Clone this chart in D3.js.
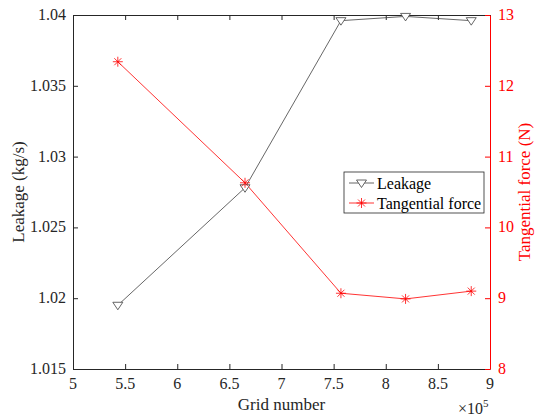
<!DOCTYPE html>
<html><head><meta charset="utf-8">
<script src="https://cdn.jsdelivr.net/npm/d3@7"></script>
<style>body{margin:0;background:#fff}svg{display:block}</style>
</head><body>
<script>
const gridX = [5.43, 6.65, 7.57, 8.19, 8.82];
const leakage = [1.0195, 1.0278, 1.0396, 1.0399, 1.0396];
const tangential = [12.34, 10.63, 9.07, 8.99, 9.10];
const xTicks = [5, 5.5, 6, 6.5, 7, 7.5, 8, 8.5, 9];
const yLeftTicks = [1.015, 1.02, 1.025, 1.03, 1.035, 1.04];
const yRightTicks = [8, 9, 10, 11, 12, 13];

const W = 536, H = 418;
const m = {l:73, r:490, t:15, b:369};
const FONT = "Times New Roman";
const svg = d3.select("body").append("svg").attr("width", W).attr("height", H)
  .attr("font-family", FONT);
const x = d3.scaleLinear().domain([5, 9]).range([m.l, m.r]);
const yL = d3.scaleLinear().domain([1.015, 1.04]).range([m.b, m.t]);
const yR = d3.scaleLinear().domain([8, 13]).range([m.b, m.t]);
const axc = "#262626", red = "#ff0000";
const fs = 16;

// draw all text explicitly (start-anchored, computed positions) so the font is honoured
function label(parent, str, px, py, opts){
  const t = parent.append("text").attr("font-family", FONT).attr("font-size", opts.size || fs)
    .attr("fill", opts.fill || "#000").text(str);
  const w = t.node().getComputedTextLength();
  const ax = opts.anchor === "middle" ? w/2 : opts.anchor === "end" ? w : 0;
  if (opts.rotate) {
    t.attr("transform", `translate(${px},${py}) rotate(-90)`).attr("x", -ax).attr("y", 0);
  } else {
    t.attr("x", px - ax).attr("y", py);
  }
  return t;
}

function axisLines(g, color){
  g.select(".domain").attr("stroke", color).attr("stroke-width", 1);
  g.selectAll(".tick line").attr("stroke", color);
  g.selectAll(".tick text").remove();
}
const gb = svg.append("g").attr("transform", `translate(0,${m.b})`)
  .call(d3.axisBottom(x).tickValues(xTicks).tickSize(-5).tickSizeOuter(0));
axisLines(gb, axc);
const gt = svg.append("g").attr("transform", `translate(0,${m.t})`)
  .call(d3.axisTop(x).tickValues(xTicks).tickSize(-5).tickSizeOuter(0));
axisLines(gt, axc);
const gl = svg.append("g").attr("transform", `translate(${m.l},0)`)
  .call(d3.axisLeft(yL).tickValues(yLeftTicks).tickSize(-5).tickSizeOuter(0));
axisLines(gl, axc);
const gr = svg.append("g").attr("transform", `translate(${m.r},0)`)
  .call(d3.axisRight(yR).tickValues(yRightTicks).tickSize(-5).tickSizeOuter(0));
axisLines(gr, red);

const tl = svg.append("g");
xTicks.forEach(v => label(tl, String(v), x(v), m.b + 20, {anchor:"middle", fill:axc}));
yLeftTicks.forEach(v => label(tl, String(v), m.l - 7, yL(v) + 5, {anchor:"end", fill:axc}));
yRightTicks.forEach(v => label(tl, String(v), m.r + 8, yR(v) + 5, {anchor:"start", fill:red}));

const lineL = d3.line().x((d,i)=>x(gridX[i])).y(d=>yL(d));
const lineR = d3.line().x((d,i)=>x(gridX[i])).y(d=>yR(d));
svg.append("path").attr("d", lineL(leakage)).attr("fill","none").attr("stroke","#404040").attr("stroke-width",0.8);
svg.append("path").attr("d", lineR(tangential)).attr("fill","none").attr("stroke",red).attr("stroke-width",0.8);

function tri(g, cx, cy, s){
  g.append("path").attr("d", `M${cx-s},${cy-s*0.6}L${cx+s},${cy-s*0.6}L${cx},${cy+s*0.9}Z`)
   .attr("fill","#fff").attr("stroke","#404040").attr("stroke-width",0.8);
}
function star(g, cx, cy, s){
  const d = `M${cx-s},${cy}L${cx+s},${cy}M${cx},${cy-s}L${cx},${cy+s}M${cx-s*0.7},${cy-s*0.7}L${cx+s*0.7},${cy+s*0.7}M${cx-s*0.7},${cy+s*0.7}L${cx+s*0.7},${cy-s*0.7}`;
  g.append("path").attr("d", d).attr("stroke", red).attr("stroke-width",0.8).attr("fill","none");
}
const mk = svg.append("g");
leakage.forEach((v,i)=>tri(mk, x(gridX[i]), yL(v), 5));
tangential.forEach((v,i)=>star(mk, x(gridX[i]), yR(v), 5));

const lab = svg.append("g");
label(lab, "Grid number", (m.l+m.r)/2, 410, {anchor:"middle", size:17, fill:axc});
const ex = lab.append("text").attr("font-family", FONT).attr("font-size",16).attr("fill",axc).attr("x", 458).attr("y", 414);
ex.append("tspan").text("×10");
ex.append("tspan").attr("font-size",11).attr("dy",-7).text("5");
label(lab, "Leakage (kg/s)", 24, (m.t+m.b)/2, {anchor:"middle", size:17, fill:axc, rotate:true});
label(lab, "Tangential force (N)", 530, (m.t+m.b)/2, {anchor:"middle", size:17, fill:red, rotate:true});

const lg = svg.append("g");
lg.append("rect").attr("x",344).attr("y",172).attr("width",140).attr("height",41)
  .attr("fill","#fff").attr("stroke","#262626").attr("stroke-width",0.8);
lg.append("line").attr("x1",349).attr("x2",374).attr("y1",183).attr("y2",183).attr("stroke","#404040").attr("stroke-width",0.8);
tri(lg, 361.5, 183, 5);
label(lg, "Leakage", 377, 189, {});
lg.append("line").attr("x1",349).attr("x2",374).attr("y1",203).attr("y2",203).attr("stroke",red).attr("stroke-width",0.8);
star(lg, 361.5, 203, 5);
label(lg, "Tangential force", 377, 209, {});
</script>
</body></html>
